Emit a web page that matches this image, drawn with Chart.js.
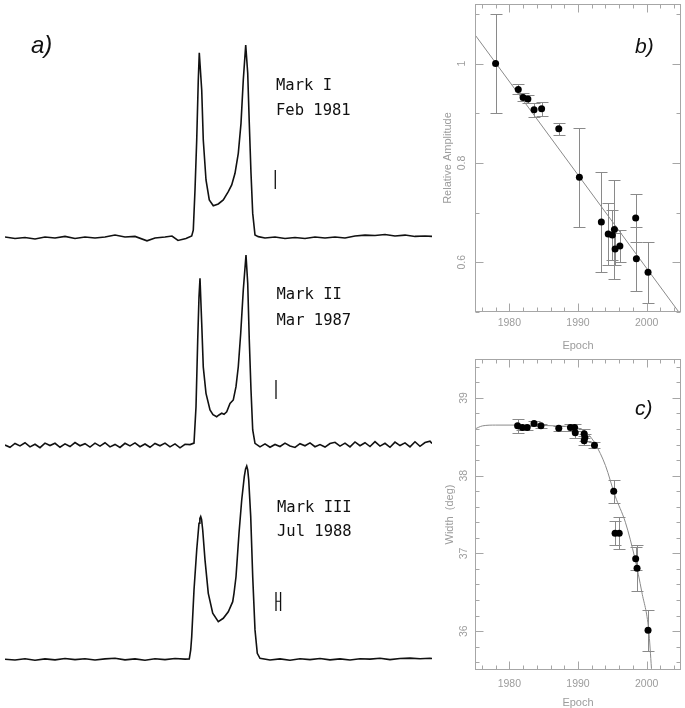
<!DOCTYPE html>
<html><head><meta charset="utf-8">
<script src="https://cdn.jsdelivr.net/npm/chart.js@4.4.1/dist/chart.umd.min.js"></script>
<style>
html,body{margin:0;padding:0;background:#fff;}
#wrap{position:relative;width:685px;height:708px;overflow:hidden;background:#fff;}
canvas{position:absolute;}
</style></head><body>
<div id="wrap">
<canvas id="p1" width="440" height="262" style="left:0px;top:0px"></canvas>
<canvas id="p2" width="440" height="230" style="left:0px;top:240px"></canvas>
<canvas id="p3" width="440" height="240" style="left:0px;top:450px"></canvas>
<canvas id="cb" width="255" height="355" style="left:430px;top:0px"></canvas>
<canvas id="cc" width="255" height="358" style="left:430px;top:350px"></canvas>
</div>
<script>
// ================= DATA =================
// Panel a) : pulse profiles, longitude (deg) vs normalised intensity
const markI_lon = [0,7,14,21,28,35,42,49,56,63,70,77,84,91,99.4,105,112,116.9,121.1,126.7,130.7,131.8,133,134.2,135.3,136,137.7,138.8,140.7,143,145.8,149.3,152.8,156.3,158.7,161,163.3,165.2,166.8,168.5,169.9,171,172.2,173.4,175,177.3,182,189,196,203,210,217,224,231,238,245,252,259,266,273,280,287,294,298.9];
const markI_amp = [0,-0.008,-0.003,-0.01,0,-0.005,0.003,-0.008,0,-0.005,0,0.01,0,0.003,-0.02,-0.005,0,0.005,-0.018,-0.008,0.005,0.036,0.245,0.505,0.818,0.96,0.766,0.505,0.297,0.193,0.163,0.172,0.193,0.236,0.271,0.332,0.436,0.592,0.818,1.0,0.853,0.592,0.332,0.123,0.01,0.002,-0.005,0,-0.008,-0.003,-0.008,0,-0.005,0,-0.005,0.005,0.01,0.008,0.013,0.005,0.01,0.003,0.005,0.003];

const markII_lon = [0,3.5,7,10.5,14,17.5,21,24.5,28,31.5,35,38.5,42,45.5,49,52.5,56,59.5,63,66.5,70,73.5,77,80.5,84,87.5,91,94.5,98,101.5,105,108.5,112,115.5,119,122.5,126,129.5,
  132.3,133.7,134.9,135.8,136.5,137.7,138.8,140.7,143.5,145.6,148.2,149.8,151.7,153.3,155.2,157.5,159.8,161.7,163.3,165,166.8,168.7,169.9,171,172.2,173.4,175,
  178.5,182,185.5,189,192.5,196,199.5,203,206.5,210,213.5,217,220.5,224,227.5,231,234.5,238,241.5,245,248.5,252,255.5,259,262.5,266,269.5,273,276.5,280,283.5,287,290.5,294,297.5,298.9];
const markII_amp = [0,-0.012,0.008,-0.005,0.012,-0.01,0.004,-0.014,0.01,-0.003,0.009,-0.012,0.006,-0.008,0.013,-0.004,0.007,-0.011,0.01,-0.006,0.012,-0.01,0.003,-0.013,0.009,-0.005,0.011,-0.009,0.005,-0.012,0.008,-0.004,0.01,-0.01,0.006,-0.015,0.004,0.002,
  0.01,0.2,0.553,0.78,0.877,0.64,0.41,0.272,0.184,0.16,0.149,0.158,0.167,0.162,0.175,0.219,0.237,0.307,0.412,0.588,0.816,1.0,0.851,0.553,0.289,0.079,0.009,
  -0.01,0.006,-0.012,0.003,-0.008,0.01,-0.005,-0.013,0.007,-0.004,0.011,-0.009,0.002,-0.011,0.008,0.014,-0.006,0.01,-0.01,0.016,-0.004,0.012,-0.008,0.018,-0.006,0.009,-0.012,0.015,-0.003,0.011,-0.01,0.017,-0.007,0.013,0.02,0.008];

const markIII_lon = [0,7,14,21,28,35,42,49,56,63,70,77,84,91,98,105,112,119,126,
  129,130,130.7,132.3,134.2,135.8,136.4,137,137.6,138.4,140,142.3,145.4,149.3,152.8,156.3,159.4,160.3,161.7,163.8,165.7,167.5,168.4,169.2,169.9,170.6,172,173.4,175,176.6,178.5,
  185.5,192.5,199.5,206.5,213.5,220.5,227.5,234.5,241.5,248.5,255.5,262.5,269.5,276.5,283.5,290.5,297.5,298.9];
const markIII_amp = [0,-0.004,0.003,-0.005,0.002,-0.003,0.004,-0.002,0.003,-0.004,0.002,0.005,-0.003,0.002,-0.005,0.003,-0.002,0.004,0.001,
  0.002,0.048,0.117,0.358,0.565,0.704,0.728,0.738,0.724,0.669,0.514,0.341,0.238,0.195,0.212,0.246,0.298,0.341,0.427,0.652,0.824,0.945,0.985,1.0,0.98,0.928,0.738,0.427,0.152,0.031,0.005,
  -0.004,0.002,-0.005,0.003,-0.002,0.004,-0.003,0.002,-0.004,0.003,0.001,0.005,-0.002,0.004,0.006,0.003,0.005,0.004];

const profileNames = ['Mark I', 'Mark II', 'Mark III'];
const profileDates = ['Feb 1981', 'Mar 1987', 'Jul 1988'];
// scale-bar markers next to each profile
const barI_lon = [189.2];        const barI_range = [0.25, 0.349];
const barII_lon = [189.7];       const barII_range = [0.242, 0.342];
const barIII_lon = [189.7, 192.9]; const barIII_range = [0.25, 0.348]; const barIII_cross = 0.30;

// Panel b) : relative amplitude vs epoch
const ampEpoch = [1978.0,1981.3,1982.0,1982.7,1983.6,1984.7,1987.2,1990.2,1993.4,1994.4,1995.0,1995.3,1995.4,1996.1,1998.4,1998.5,2000.2];
const ampValue = [1.000,0.948,0.932,0.929,0.907,0.909,0.869,0.771,0.681,0.657,0.655,0.666,0.627,0.633,0.689,0.607,0.580];
const ampError = [0.10,0.010,0.008,0.008,0.014,0.014,0.012,0.10,0.10,0.063,0.05,0.10,0.033,0.033,0.049,0.065,0.061];
const ampFitEpoch = [1975, 2005];
const ampFitValue = [1.058, 0.494];
const ampTickLabels = ['0.6', '0.8', '1'];

// Panel c) : width vs epoch
const widthEpoch = [1981.2,1981.9,1982.6,1983.6,1984.6,1987.2,1988.9,1989.5,1989.6,1990.9,1991.0,1990.9,1992.4,1995.2,1995.4,1996.0,1998.4,1998.6,2000.2];
const widthValue = [38.64,38.62,38.62,38.67,38.64,38.61,38.62,38.62,38.55,38.54,38.49,38.45,38.39,37.80,37.26,37.26,36.93,36.81,36.01];
const widthError = [0.09,0.03,0.03,0.03,0.03,0.03,0.04,0.05,0.06,0.06,0.05,0.06,0.04,0.15,0.15,0.21,0.15,0.30,0.26];
const widthFitEpoch = [1975,1976.1,1978,1981.9,1986.7,1990.1,1991.6,1992.5,1994.0,1995.4,1996.9,1998.3,1999.3,2000.3,2000.7,2000.8];
const widthFitValue = [38.60,38.64,38.65,38.65,38.64,38.61,38.52,38.41,38.13,37.74,37.40,36.93,36.50,36.01,35.52,35.40];
const widthTickLabels = ['36', '37', '38', '39'];

const epochTickLabels = ['1980', '1990', '2000'];

// ================= DRAWING =================
const INK = '#111';
const GREY = '#a6a6a6';
const TXT_GREY = '#9c9c9c';
const BAR_GREY = '#8a8a8a';

function textPlugin(name, items) {
  return {
    id: 'txt_' + name,
    afterDraw(chart) {
      const ctx = chart.ctx;
      ctx.save();
      items.forEach(it => {
        ctx.font = it.font;
        ctx.fillStyle = it.color || INK;
        ctx.textAlign = 'left';
        ctx.textBaseline = 'alphabetic';
        ctx.fillText(it.text, it.x, it.y);
      });
      ctx.restore();
    }
  };
}

function profileChart(id, lon, amp, barLon, barRange, cross, pad, texts) {
  const datasets = [{
    data: lon.map((l, i) => ({x: l, y: amp[i]})),
    borderColor: INK, borderWidth: 1.6, pointRadius: 0, tension: 0, fill: false
  }];
  barLon.forEach(b => datasets.push({
    data: [{x: b, y: barRange[0]}, {x: b, y: barRange[1]}],
    borderColor: INK, borderWidth: 1.3, pointRadius: 0, fill: false
  }));
  if (cross !== null && barLon.length > 1) {
    datasets.push({
      data: [{x: barLon[0], y: cross}, {x: barLon[barLon.length - 1], y: cross}],
      borderColor: INK, borderWidth: 1.1, pointRadius: 0, fill: false
    });
  }
  return new Chart(document.getElementById(id), {
    type: 'line',
    data: {datasets},
    options: {
      responsive: false, animation: false, events: [],
      layout: {padding: pad},
      scales: {
        x: {type: 'linear', min: 0, max: 298.9, display: false},
        y: {type: 'linear', min: -0.1, max: 1.05, display: false}
      },
      plugins: {legend: {display: false}, tooltip: {enabled: false}}
    },
    plugins: [textPlugin(id, texts)]
  });
}

const monoFont = '15.5px "DejaVu Sans Mono"';
profileChart('p1', markI_lon, markI_amp, barI_lon, barI_range, null,
  {left: 5, right: 8, top: 35.4, bottom: 5.8},
  [{text: profileNames[0], x: 276, y: 90, font: monoFont},
   {text: profileDates[0], x: 276, y: 115, font: monoFont},
   {text: 'a)', x: 31, y: 53, font: 'italic 24px "Liberation Sans"'}]);
profileChart('p2', markII_lon, markII_amp, barII_lon, barII_range, null,
  {left: 5, right: 8, top: 5.5, bottom: 6},
  [{text: profileNames[1], x: 276.5, y: 59, font: monoFont},
   {text: profileDates[1], x: 276.5, y: 85, font: monoFont}]);
profileChart('p3', markIII_lon, markIII_amp, barIII_lon, barIII_range, barIII_cross,
  {left: 5, right: 8, top: 6.3, bottom: 11.4},
  [{text: profileNames[2], x: 277, y: 61.7, font: monoFont},
   {text: profileDates[2], x: 277, y: 86, font: monoFont}]);

// error bars
const errorBarPlugin = {
  id: 'errbars',
  beforeDatasetsDraw(chart) {
    const {ctx, chartArea: a, scales: {x, y}} = chart;
    ctx.save();
    ctx.beginPath();
    ctx.rect(a.left, a.top, a.right - a.left, a.bottom - a.top);
    ctx.clip();
    ctx.strokeStyle = BAR_GREY;
    ctx.lineWidth = 1;
    chart.data.datasets.forEach(ds => {
      if (!ds.errs) return;
      ds.data.forEach((p, j) => {
        const px = Math.round(x.getPixelForValue(p.x)) + 0.5;
        const t = Math.round(y.getPixelForValue(p.y + ds.errs[j])) + 0.5;
        const b = Math.round(y.getPixelForValue(p.y - ds.errs[j])) + 0.5;
        ctx.beginPath();
        ctx.moveTo(px, t); ctx.lineTo(px, b);
        ctx.moveTo(px - 6, t); ctx.lineTo(px + 6, t);
        ctx.moveTo(px - 6, b); ctx.lineTo(px + 6, b);
        ctx.stroke();
      });
    });
    ctx.restore();
  }
};

function axesPlugin(cfg) {
  return {
    id: 'axes_' + cfg.name,
    afterDraw(chart) {
      const {ctx, chartArea: a, scales: {x, y}} = chart;
      ctx.save();
      ctx.strokeStyle = GREY;
      ctx.lineWidth = 1;
      const L = Math.round(a.left) + 0.5, R = Math.round(a.right) - 0.5;
      const T = Math.round(a.top) + 0.5, B = Math.round(a.bottom) - 0.5;
      ctx.strokeRect(L, T, R - L, B - T);
      ctx.beginPath();
      const nx = Math.round((x.max - cfg.xStart) / cfg.xStep);
      for (let k = 0; k <= nx; k++) {
        const v = cfg.xStart + k * cfg.xStep;
        const r = v / cfg.xMajor;
        const len = Math.abs(r - Math.round(r)) < 1e-6 ? 8 : 4;
        const px = Math.round(x.getPixelForValue(v)) + 0.5;
        ctx.moveTo(px, B); ctx.lineTo(px, B - len);
        ctx.moveTo(px, T); ctx.lineTo(px, T + len);
      }
      const ny = Math.round((y.max - cfg.yStart) / cfg.yStep);
      for (let k = 0; k <= ny; k++) {
        const v = cfg.yStart + k * cfg.yStep;
        const r = v / cfg.yMajor;
        const len = Math.abs(r - Math.round(r)) < 1e-6 ? 8 : 4;
        const py = Math.round(y.getPixelForValue(v)) + 0.5;
        ctx.moveTo(L, py); ctx.lineTo(L + len, py);
        ctx.moveTo(R, py); ctx.lineTo(R - len, py);
      }
      ctx.stroke();

      ctx.fillStyle = TXT_GREY;
      ctx.font = '10.5px "Liberation Sans"';
      ctx.textAlign = 'center';
      ctx.textBaseline = 'alphabetic';
      cfg.xLabels.forEach(s => ctx.fillText(s, x.getPixelForValue(parseFloat(s)), cfg.xLabelY));
      cfg.yLabels.forEach(s => {
        ctx.save();
        ctx.translate(cfg.yLabelX, y.getPixelForValue(parseFloat(s)));
        ctx.rotate(-Math.PI / 2);
        ctx.textBaseline = 'middle';
        ctx.fillText(s, 0, 0);
        ctx.restore();
      });
      ctx.font = '11px "Liberation Sans"';
      ctx.fillText(cfg.xTitle, (a.left + a.right) / 2, cfg.xTitleY);
      ctx.save();
      ctx.translate(cfg.yTitleX, (a.top + a.bottom) / 2);
      ctx.rotate(-Math.PI / 2);
      ctx.textBaseline = 'middle';
      ctx.fillText(cfg.yTitle, 0, 0);
      ctx.restore();

      ctx.fillStyle = INK;
      ctx.font = 'italic 21px "Liberation Sans"';
      ctx.textAlign = 'left';
      ctx.fillText(cfg.letter, cfg.letterX, cfg.letterY);
      ctx.restore();
    }
  };
}

function trendChart(id, ep, val, err, fitEp, fitVal, yMin, yMax, pad, curved, cfg) {
  return new Chart(document.getElementById(id), {
    type: 'scatter',
    data: {
      datasets: [
        {
          data: ep.map((e, i) => ({x: e, y: val[i]})),
          errs: err,
          pointRadius: 3.5, pointBackgroundColor: '#000', pointBorderWidth: 0,
          showLine: false
        },
        {
          data: fitEp.map((e, i) => ({x: e, y: fitVal[i]})),
          showLine: true, pointRadius: 0, borderColor: BAR_GREY, borderWidth: 1,
          cubicInterpolationMode: curved ? 'monotone' : 'default', tension: 0
        }
      ]
    },
    options: {
      responsive: false, animation: false, events: [],
      layout: {padding: pad},
      scales: {
        x: {type: 'linear', min: 1975, max: 2005, display: false},
        y: {type: 'linear', min: yMin, max: yMax, display: false}
      },
      plugins: {legend: {display: false}, tooltip: {enabled: false}}
    },
    plugins: [errorBarPlugin, axesPlugin(cfg)]
  });
}

trendChart('cb', ampEpoch, ampValue, ampError, ampFitEpoch, ampFitValue, 0.5, 1.12,
  {left: 45, right: 3, top: 1, bottom: 43}, false,
  {name: 'b', xStart: 1976, xStep: 2, xMajor: 10, yStart: 0.5, yStep: 0.1, yMajor: 0.2,
   xLabels: epochTickLabels, yLabels: ampTickLabels, xLabelY: 326, yLabelX: 32,
   xTitle: 'Epoch', xTitleY: 348.5, yTitle: 'Relative Amplitude', yTitleX: 18,
   letter: 'b)', letterX: 205, letterY: 53});

trendChart('cc', widthEpoch, widthValue, widthError, widthFitEpoch, widthFitValue, 35.5, 39.5,
  {left: 45, right: 3, top: 9, bottom: 38}, true,
  {name: 'c', xStart: 1976, xStep: 2, xMajor: 10, yStart: 35.6, yStep: 0.2, yMajor: 1,
   xLabels: epochTickLabels, yLabels: widthTickLabels, xLabelY: 336.5, yLabelX: 34,
   xTitle: 'Epoch', xTitleY: 356, yTitle: 'Width  (deg)', yTitleX: 20,
   letter: 'c)', letterX: 205, letterY: 65});
</script>
</body></html>
